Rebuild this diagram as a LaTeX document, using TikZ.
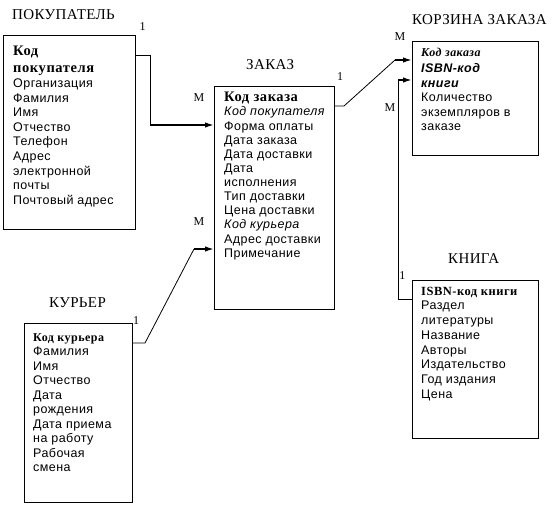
\documentclass[tikz,border=0pt]{standalone}
\usepackage{fontspec}
\setmainfont{Liberation Serif}
\newfontfamily\sansf[LetterSpace=3.5]{Liberation Sans}
\newfontfamily\serifw[LetterSpace=4]{Liberation Serif}
\newfontfamily\serift[LetterSpace=2.5]{Liberation Serif}
\usetikzlibrary{arrows.meta}
\begin{document}
\begin{tikzpicture}[x=1pt,y=-1pt,
  box/.style={draw, line width=0.9pt, inner sep=0, anchor=north west},
  body/.style={inner sep=0, anchor=north west, align=left},
  ttl/.style={inner sep=0, anchor=base west, font=\serift\fontsize{15}{18}\selectfont},
  lbl/.style={inner sep=0, anchor=base, font=\fontsize{12}{14}\selectfont},
  ln/.style={line width=0.8pt},
  arr/.style={line width=1.6pt, -{Latex[length=9pt,width=5.5pt]}}
]
\path[fill=white] (0,0) rectangle (557,504);
\useasboundingbox (0,0) rectangle (557,504);

% boxes
\node[box, minimum width=132pt, minimum height=194pt] (pok) at (3,35) {};
\node[box, minimum width=120pt, minimum height=223pt] (zak) at (214,86) {};
\node[box, minimum width=126pt, minimum height=114pt] (kor) at (412,41) {};
\node[box, minimum width=108pt, minimum height=179pt] (kur) at (24,323) {};
\node[box, minimum width=126pt, minimum height=158pt] (kni) at (412,280) {};

% titles
\node[ttl] (tpok) at (12,19) {ПОКУПАТЕЛЬ};
\node[ttl] (tzak) at (246,69) {ЗАКАЗ};
\node[ttl] (tkor) at (412,24) {КОРЗИНА ЗАКАЗА};
\node[ttl] (tkur) at (49,307.7) {КУРЬЕР};
\node[ttl] (tkni) at (448,263.3) {КНИГА};

% contents
\node[body, font=\sansf\fontsize{12.5}{14.6}\selectfont] (pokt) at (13,45) {%
\rule{0pt}{10pt}{\serifw\bfseries\fontsize{14.5}{14.6}\selectfont Код}\\[3.1pt]
{\serifw\bfseries\fontsize{14.5}{14.6}\selectfont покупателя}\\
Организация\\ Фамилия\\ Имя\\ Отчество\\ Телефон\\ Адрес\\ электронной\\ почты\\ Почтовый адрес};

\node[body, font=\sansf\fontsize{12.5}{14.1}\selectfont] (zakt) at (224,91) {%
\rule{0pt}{10pt}{\serifw\bfseries\fontsize{14.5}{14.1}\selectfont Код заказа}\\
{\itshape Код покупателя}\\[0.8pt]
Форма оплаты\\ Дата заказа\\ Дата доставки\\ Дата\\ исполнения\\ Тип доставки\\ Цена доставки\\
{\itshape Код курьера}\\ Адрес доставки\\ Примечание};

\node[body, font=\sansf\fontsize{12.5}{14.5}\selectfont] (kort) at (421,46) {%
\rule{0pt}{10pt}{\serifw\bfseries\itshape\fontsize{12}{14.5}\selectfont Код заказа}\\[2.2pt]
{\bfseries\itshape ISBN-код}\\ {\bfseries\itshape книги}\\
Количество\\ экземпляров в\\ заказе};

\node[body, font=\sansf\fontsize{12.5}{14.5}\selectfont] (kurt) at (33,331) {%
\rule{0pt}{10pt}{\serifw\bfseries\fontsize{12}{14.5}\selectfont Код курьера}\\
Фамилия\\ Имя\\ Отчество\\ Дата\\ рождения\\ Дата приема\\ на работу\\ Рабочая\\ смена};

\node[body, font=\sansf\fontsize{12.5}{14.7}\selectfont] (knit) at (421,285) {%
\rule{0pt}{10pt}{\serifw\bfseries\fontsize{12.5}{14.7}\selectfont ISBN-код книги}\\
Раздел\\ литературы\\ Название\\ Авторы\\ Издательство\\ Год издания\\ Цена};

% cardinality labels
\node[lbl] (l1) at (142.5,30) {1};
\node[lbl] (l2) at (199,101.7) {М};
\node[lbl] (l3) at (340,80.7) {1};
\node[lbl] (l4) at (199,225.7) {М};
\node[lbl] (l5) at (400,40.7) {М};
\node[lbl] (l6) at (390,111.7) {М};
\node[lbl] (l7) at (402.3,279.3) {1};
\node[lbl] (l8) at (136,324) {1};

% connectors
\draw[ln] (pok.east |- 0,55) -| (150,125);
\draw[arr] (150,125) -- (zak.west |- 0,125);

\draw[ln] (zak.east |- 0,106) -- (344,106) -- (395,60);
\draw[arr] (395,60) -- (kor.west |- 0,60);

\draw[ln] (kni.west |- 0,299) -| (398,80);
\draw[arr] (398,80) -- (kor.west |- 0,80);

\draw[ln] (kur.east |- 0,343) -- (145,343) -- (194,249);
\draw[arr] (194,249) -- (zak.west |- 0,249);
\end{tikzpicture}
\end{document}
